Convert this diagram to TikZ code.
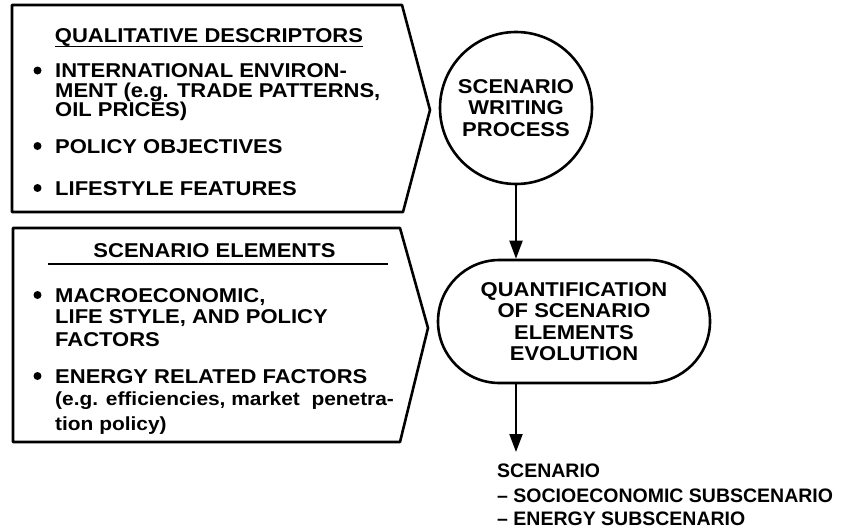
\documentclass[tikz,border=0pt]{standalone}
\usepackage{fontspec}
\setmainfont{Liberation Sans}
\newfontfamily\wfont[FakeStretch=1.1]{Liberation Sans}
\usetikzlibrary{arrows.meta,shapes.misc}
\begin{document}
\begin{tikzpicture}[x=1pt,y=-1pt,
  box/.style={line width=2.6pt,line join=round},
  txt/.style={inner sep=0pt,anchor=base west,font=\wfont\fontsize{20}{20}\selectfont\bfseries},
  lowtxt/.style={inner sep=0pt,anchor=base west,font=\wfont\fontsize{19}{19}\selectfont\bfseries},
  outtxt/.style={inner sep=0pt,anchor=base west,font=\fontsize{19.5}{19.5}\selectfont\bfseries},
  ttl/.style={inner sep=0pt,anchor=base,font=\wfont\fontsize{20}{20}\selectfont\bfseries},
  bul/.style={circle,fill,inner sep=0pt,minimum size=8pt},
  proc/.style={draw,line width=2.6pt,align=center,inner sep=0pt,font=\wfont\fontsize{20}{21.5}\selectfont\bfseries},
  arr/.style={line width=2pt,-{Triangle[width=13pt,length=18pt]}}]
\useasboundingbox (0,0) rectangle (845,530);
% box 1
\draw[box] (12,5) -- (402,5) -- (430,110) -- (403,212) -- (12,212) -- cycle;
\node[ttl] (t1) at (209,42) {QUALITATIVE DESCRIPTORS};
\draw[line width=1.8pt] ([yshift=-4.5pt]t1.base west) -- ([yshift=-4.5pt]t1.base east);
\node[bul] (b11) at (37.5,70.5) {};
\node[txt] (l11) at (55,77.5) {INTERNATIONAL ENVIRON-};
\node[txt] (l12) at (55,97.5) {MENT (e.g. TRADE PATTERNS,};
\node[txt] (l13) at (55,116.5) {OIL PRICES)};
\node[bul] (b12) at (37.5,146) {};
\node[txt] (l14) at (55,153) {POLICY OBJECTIVES};
\node[bul] (b13) at (37.5,188) {};
\node[txt] (l15) at (55,195) {LIFESTYLE FEATURES};
% box 2
\draw[box] (13,228) -- (400,228) -- (428,328) -- (400,442) -- (13,442) -- cycle;
\node[ttl] (t2) at (214.5,257) {SCENARIO ELEMENTS};
\coordinate (u2a) at (48,264);
\coordinate (u2b) at (388,264);
\draw[line width=1.8pt] (u2a) -- (u2b);
\node[bul] (b21) at (37.5,295) {};
\node[txt] (l21) at (55,302) {MACROECONOMIC,};
\node[txt] (l22) at (55,323.5) {LIFE STYLE, AND POLICY};
\node[txt] (l23) at (55,346) {FACTORS};
\node[bul] (b22) at (37.5,376) {};
\node[txt] (l24) at (55,383) {ENERGY RELATED FACTORS};
\node[lowtxt] (l25) at (55,405) {(e.g. efficiencies, market\ \ penetra-};
\node[lowtxt] (l26) at (55,430) {tion policy)};
% process nodes
\node[proc,circle,minimum size=152pt] (circ) at (516,108)
  {SCENARIO\\WRITING\\PROCESS};
\node[proc,rounded rectangle,minimum width=272pt,minimum height=123pt] (stad) at (574,321.5)
  {QUANTIFICATION\\OF SCENARIO\\ELEMENTS\\EVOLUTION};
\draw[arr] (circ.south) -- (circ.south |- stad.north);
\coordinate (scen) at (516,452);
\draw[arr] (stad.south -| scen) -- (scen);
% output
\node[outtxt] (o1) at (497,477) {SCENARIO};
\node[outtxt] (o2) at (497,502) {–\ SOCIOECONOMIC SUBSCENARIO};
\node[outtxt] (o3) at (497,525) {–\ ENERGY SUBSCENARIO};
\end{tikzpicture}
\end{document}
